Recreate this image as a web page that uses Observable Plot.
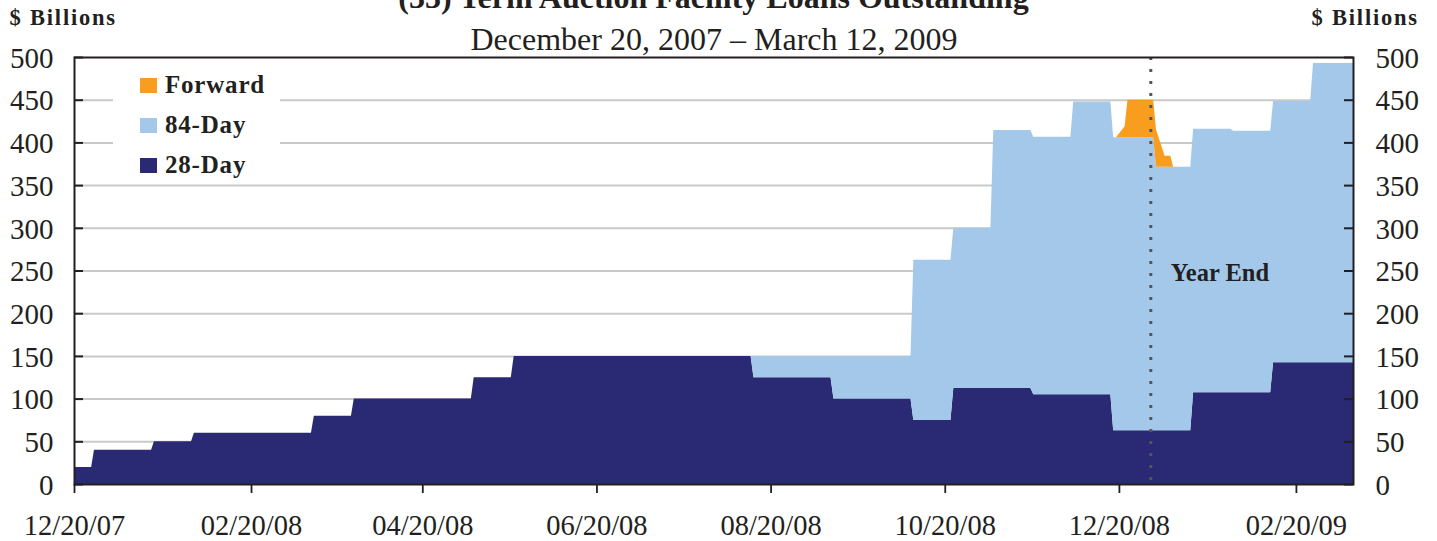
<!DOCTYPE html>
<html>
<head>
<meta charset="utf-8">
<script src="https://cdn.jsdelivr.net/npm/d3@7"></script>
<script src="https://cdn.jsdelivr.net/npm/@observablehq/plot@0.6"></script>
<style>
html, body { margin: 0; padding: 0; background: #fff; }
#chart { width: 1437px; height: 541px; position: relative; overflow: hidden; }
svg text { font-family: 'Liberation Serif', 'Times New Roman', serif; }
</style>
</head>
<body>
<div id="chart"></div>
<script>
// ---- Data ($ billions) ----
const dates = [
  "2007-12-20", "2007-12-26", "2007-12-27", "2008-01-16", "2008-01-17",
  "2008-01-30", "2008-01-31", "2008-03-12", "2008-03-13", "2008-03-26",
  "2008-03-27", "2008-05-07", "2008-05-08", "2008-05-21", "2008-05-22",
  "2008-08-13", "2008-08-14", "2008-09-10", "2008-09-11", "2008-10-08",
  "2008-10-09", "2008-10-22", "2008-10-23", "2008-11-05", "2008-11-06",
  "2008-11-19", "2008-11-20", "2008-12-03", "2008-12-04", "2008-12-17",
  "2008-12-18", "2008-12-19", "2008-12-22", "2008-12-23", "2008-12-31",
  "2009-01-01", "2009-01-02", "2009-01-05", "2009-01-07", "2009-01-08",
  "2009-01-14", "2009-01-15", "2009-01-28", "2009-01-29", "2009-02-11",
  "2009-02-12", "2009-02-25", "2009-02-26", "2009-03-12"
];
const day28 = [
  20, 20, 40, 40, 50,
  50, 60, 60, 80, 80,
  100, 100, 125, 125, 150,
  150, 125, 125, 100, 100,
  75, 75, 112.5, 112.5, 112.5,
  112.5, 105, 105, 105, 105,
  63, 63, 63, 63, 63,
  63, 63, 63, 63, 63,
  63, 107.5, 107.5, 107.5, 107.5,
  142.5, 142.5, 142.5, 142.5
];
const day84 = [
  0, 0, 0, 0, 0,
  0, 0, 0, 0, 0,
  0, 0, 0, 0, 0,
  0, 25, 25, 50, 50,
  187.5, 187.5, 187.5, 187.5, 302,
  302, 301.5, 301.5, 343, 343,
  343, 343, 343, 343, 343,
  343, 308.5, 308.5, 308.5, 308.5,
  308.5, 308.5, 308.5, 306, 306,
  306, 306, 350.5, 350.5
];
const forward = [
  0, 0, 0, 0, 0,
  0, 0, 0, 0, 0,
  0, 0, 0, 0, 0,
  0, 0, 0, 0, 0,
  0, 0, 0, 0, 0,
  0, 0, 0, 0, 0,
  0, 0, 13, 44, 44,
  44, 43.5, 13, 13, 0,
  0, 0, 0, 0, 0,
  0, 0, 0, 0
];
const seriesNames = ["28-Day", "84-Day", "Forward"];
const seriesColors = ["#292a73", "#a3c8ea", "#f89d1d"];
const yTicks = [0, 50, 100, 150, 200, 250, 300, 350, 400, 450, 500];
const gridValues = [50, 100, 150, 200, 250, 300, 350, 400, 450];
const xTickDates = ["2007-12-20", "2008-02-20", "2008-04-20", "2008-06-20", "2008-08-20", "2008-10-20", "2008-12-20", "2009-02-20"];
const xDomain = ["2007-12-20", "2009-03-12"];
const yearEnd = "2008-12-31";
const titleText = "(33) Term Auction Facility Loans Outstanding";
const subtitleText = "December 20, 2007 \u2013 March 12, 2009";
const unitText = "$ Billions";
const yearEndText = "Year End";

// ---- Build table ----
const parse = d3.utcParse("%Y-%m-%d");
const valuesBySeries = {"28-Day": day28, "84-Day": day84, "Forward": forward};
const rows = [];
for (const s of seriesNames) {
  dates.forEach((d, i) => rows.push({date: parse(d), series: s, value: valuesBySeries[s][i]}));
}

const W = 1437, H = 541, mL = 74, mR = 84, mT = 57, mB = 57;
const frameW = W - mL - mR;
const ink = "#231f20";

const plot = Plot.plot({
  width: W, height: H,
  marginLeft: mL, marginRight: mR, marginTop: mT, marginBottom: mB,
  style: {fontFamily: "'Liberation Serif', 'Times New Roman', serif", fontSize: "29px", color: ink, background: "transparent", overflow: "visible"},
  x: {type: "utc", domain: xDomain.map(parse)},
  y: {domain: [0, 500]},
  color: {domain: seriesNames, range: seriesColors},
  marks: [
    Plot.ruleY(gridValues, {stroke: "#c9c9c9", strokeWidth: 2}),
    Plot.areaY(rows, {x: "date", y: "value", z: "series", fill: "series", order: seriesNames, curve: "linear"}),
    Plot.ruleX([parse(yearEnd)], {stroke: "#555658", strokeWidth: 3, strokeDasharray: "3,9"}),
    Plot.text([parse(yearEnd)], {x: d => d, frameAnchor: "middle", text: () => yearEndText, textAnchor: "start", dx: 20, dy: 2.5, fontWeight: "bold", fontSize: 24.5, fill: ink}),
    Plot.tickY(yTicks, {y: d => d, insetRight: frameW - 9, stroke: ink, strokeWidth: 2}),
    Plot.tickY(yTicks, {y: d => d, insetLeft: frameW - 9, stroke: ink, strokeWidth: 2}),
    Plot.axisY({ticks: yTicks, anchor: "left", tickSize: 0, tickPadding: 21, label: null, fontSize: 29, dy: 1, tickFormat: d => String(d)}),
    Plot.axisY({ticks: yTicks, anchor: "right", tickSize: 0, tickPadding: 22, label: null, fontSize: 29, dy: 1, tickFormat: d => String(d)}),
    Plot.axisX({ticks: xTickDates.map(parse), tickFormat: d3.utcFormat("%m/%d/%y"), tickSize: 9, tickPadding: 21, label: null, fontSize: 28.5, strokeWidth: 1.8}),
    Plot.frame({stroke: ink, strokeWidth: 2})
  ]
});

document.getElementById("chart").appendChild(plot);

// ---- Titles and legend as SVG text ----
const svg = d3.select(plot);
svg.append("text").attr("x", 713.5).attr("y", 7.5).attr("text-anchor", "middle")
  .attr("font-weight", "bold").attr("font-size", 32).attr("fill", ink).text(titleText);
svg.append("text").attr("x", 714).attr("y", 50).attr("text-anchor", "middle")
  .attr("font-size", 32).attr("fill", ink).text(subtitleText);
svg.append("text").attr("x", 9.5).attr("y", 25).attr("text-anchor", "start").attr("font-weight", "bold")
  .attr("font-size", 22.5).attr("letter-spacing", "1.8px").attr("fill", ink).text(unitText);
svg.append("text").attr("x", 1311.5).attr("y", 25).attr("text-anchor", "start").attr("font-weight", "bold")
  .attr("font-size", 22.5).attr("letter-spacing", "1.8px").attr("fill", ink).text(unitText);

const legend = svg.append("g");
legend.append("rect").attr("x", 113).attr("y", 60).attr("width", 167).attr("height", 120).attr("fill", "#fff");
const legendOrder = seriesNames.slice().reverse();
legendOrder.forEach((name, i) => {
  const color = seriesColors[seriesNames.indexOf(name)];
  legend.append("rect").attr("x", 140).attr("y", 78 + i * 40).attr("width", 17).attr("height", 15).attr("fill", color);
  legend.append("text").attr("x", 165).attr("y", 93.3 + i * 40).attr("text-anchor", "start").attr("font-weight", "bold")
    .attr("font-size", 25).attr("letter-spacing", "0.8px").attr("fill", ink).text(name);
});
</script>
</body>
</html>
